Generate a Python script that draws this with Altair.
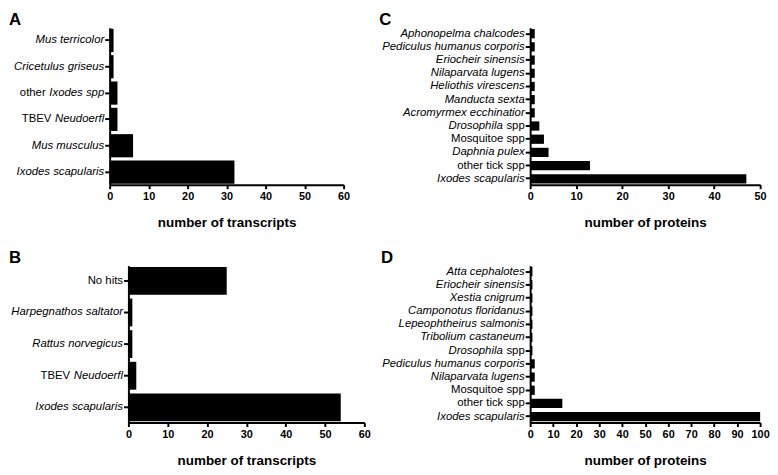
import altair as alt
import pandas as pd

FONT = "Liberation Sans"

# ---------------- data ----------------
a_species = ["Mus terricolor", "Cricetulus griseus", "other Ixodes spp",
             "TBEV Neudoerfl", "Mus musculus", "Ixodes scapularis"]
a_counts = [1, 1, 2, 2, 6, 32]

b_species = ["No hits", "Harpegnathos saltator", "Rattus norvegicus",
             "TBEV Neudoerfl", "Ixodes scapularis"]
b_counts = [25, 1, 1, 2, 54]

c_species = ["Aphonopelma chalcodes", "Pediculus humanus corporis", "Eriocheir sinensis",
             "Nilaparvata lugens", "Heliothis virescens", "Manducta sexta",
             "Acromyrmex ecchinatior", "Drosophila spp", "Mosquitoe spp",
             "Daphnia pulex", "other tick spp", "Ixodes scapularis"]
c_counts = [1, 1, 1, 1, 1, 1, 1, 2, 3, 4, 13, 47]

d_species = ["Atta cephalotes", "Eriocheir sinensis", "Xestia cnigrum",
             "Camponotus floridanus", "Lepeophtheirus salmonis", "Tribolium castaneum",
             "Drosophila spp", "Pediculus humanus corporis", "Nilaparvata lugens",
             "Mosquitoe spp", "other tick spp", "Ixodes scapularis"]
d_counts = [1, 1, 1, 1, 1, 1, 1, 2, 2, 2, 14, 100]

# labels whose text mixes upright and italic parts: (left part, left style, right part, right style)
mixed_labels = {
    "other Ixodes spp": ("other", "normal", "Ixodes spp", "italic"),
    "TBEV Neudoerfl": ("TBEV", "normal", "Neudoerfl", "italic"),
    "Drosophila spp": ("Drosophila", "italic", "spp", "normal"),
}
# labels whose (right-hand) axis text is upright
upright_labels = ["No hits", "Mosquitoe spp", "other tick spp", "Drosophila spp"]

# ---------------- styling helpers ----------------
LABEL_SIZE = 11.5
TICK_Y = 5
PAD_Y = 1
# Arial / Liberation Sans advance widths (per 1000 em) for text measurement
ARIAL_W = {"I": 278, "x": 500, "o": 556, "d": 556, "e": 556, "s": 500, " ": 278,
           "p": 556, "N": 722, "u": 556, "r": 333, "f": 278, "l": 222}


def seg_width(s, size=LABEL_SIZE):
    return sum(ARIAL_W.get(c, 556) for c in s) * size / 1000.0


def js_str(s):
    return "'" + s.replace("'", "\\'") + "'"


def panel(letter, species, counts, xmax, xtitle, width, height,
          pad_inner, pad_outer, letter_x, letter_y=-16):
    df = pd.DataFrame({"species": species, "count": counts})

    expr = "datum.label"
    for full, (left, ls, right, rs) in mixed_labels.items():
        expr = f"datum.value == {js_str(full)} ? {js_str(right)} : ({expr})"
    upright_test = " || ".join(f"datum.value == {js_str(s)}" for s in upright_labels)

    y_enc = alt.Y(
        "species:N",
        scale=alt.Scale(domain=species, paddingInner=pad_inner, paddingOuter=pad_outer),
        axis=alt.Axis(
            title=None,
            labelExpr=expr,
            labelFont=FONT,
            labelFontSize=LABEL_SIZE,
            labelColor="black",
            labelPadding=PAD_Y,
            labelLimit=0,
            labelFontStyle={"condition": {"test": upright_test, "value": "normal"},
                            "value": "italic"},
            tickSize=TICK_Y,
            tickWidth=2,
            tickColor="black",
            domainColor="black",
            domainWidth=2,
            grid=False,
        ),
    )

    x_enc = alt.X(
        "count:Q",
        scale=alt.Scale(domain=[0, xmax], nice=False),
        axis=alt.Axis(
            values=list(range(0, xmax + 1, 10)),
            format="d",
            title=xtitle,
            titleFont=FONT,
            titleFontSize=13.6,
            titleFontWeight="bold",
            titleColor="black",
            titlePadding=14,
            labelFont=FONT,
            labelFontSize=11,
            labelFontWeight="bold",
            labelColor="black",
            labelPadding=2,
            labelFlush=False,
            tickSize=4,
            tickWidth=2,
            tickColor="black",
            domainColor="black",
            domainWidth=2,
            grid=False,
        ),
    )

    bars = alt.Chart(df).mark_bar(color="black").encode(x=x_enc, y=y_enc)
    layers = [bars]

    for full in species:
        if full in mixed_labels:
            left, ls, right, rs = mixed_labels[full]
            tdf = pd.DataFrame({"species": [full], "part": [left]})
            layers.append(
                alt.Chart(tdf).mark_text(
                    align="right", baseline="middle",
                    dx=-(TICK_Y + PAD_Y + seg_width(" " + right)),
                    font=FONT, fontSize=LABEL_SIZE, fontStyle=ls, color="black",
                ).encode(y=y_enc, x=alt.value(0), text="part:N")
            )

    ldf = pd.DataFrame({"t": [letter]})
    layers.append(
        alt.Chart(ldf).mark_text(
            align="left", baseline="top", font=FONT, fontSize=17,
            fontWeight="bold", color="black",
        ).encode(x=alt.value(letter_x), y=alt.value(letter_y), text="t:N")
    )

    return alt.layer(*layers).properties(width=width, height=height)


def spacer():
    # near-zero-size placeholder so that each row is laid out from its own left edge
    return alt.Chart(pd.DataFrame({"t": [""]})).mark_text().encode(
        text=alt.value("")).properties(width=1, height=1)


pA = panel("A", a_species, a_counts, 60, "number of transcripts", 237, 159, 0.12, 0.04, -102)
pB = panel("B", b_species, b_counts, 60, "number of transcripts", 239, 159, 0.12, 0.04, -121)
pC = panel("C", c_species, c_counts, 50, "number of proteins", 233, 159, 0.3, 0.1, -153)
pD = panel("D", d_species, d_counts, 100, "number of proteins", 233, 159, 0.3, 0.1, -151)

row1 = alt.hconcat(spacer(), alt.hconcat(pA, pC, spacing=29), spacing=0)
row2 = alt.hconcat(spacer(), alt.hconcat(pB, pD, spacing=10), spacing=0)

chart = (
    alt.vconcat(row1, row2, spacing=20)
    .properties(padding=0, background="white")
    .configure_view(stroke=None)
)

chart.save("out.html", embed_options={"renderer": "svg", "actions": False})
